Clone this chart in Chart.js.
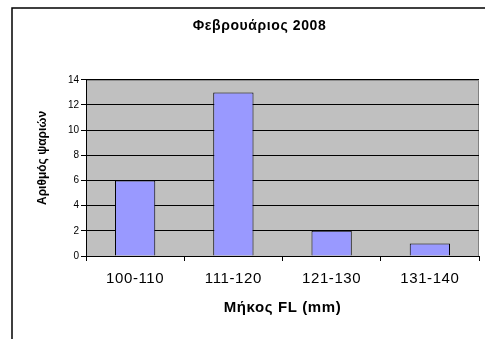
<!DOCTYPE html>
<html>
<head>
<meta charset="utf-8">
<script src="https://cdn.jsdelivr.net/npm/chart.js@4"></script>
<style>
  html, body { margin: 0; padding: 0; background: #fff; }
  #wrap { width: 485px; height: 339px; }
</style>
</head>
<body>
<div id="wrap"><canvas id="fishChart" width="485" height="339"></canvas></div>
<script>
// data
const lengthClasses = ['100-110', '111-120', '121-130', '131-140'];
const fishCounts = [6, 13, 2, 1];
const yTicks = [0, 2, 4, 6, 8, 10, 12, 14];

const chartTitle = 'Φεβρουάριος 2008';
const xTitle = 'Μήκος FL (mm)';
const yTitle = 'Αριθμός ψαριών';

const FONT = '"Liberation Sans", Arial, sans-serif';

// gray plot area, gray top/right edge and the outer frame lines
const backdrop = {
    id: 'backdrop',
    beforeDraw(chart) {
        const { ctx, chartArea: a } = chart;
        ctx.save();
        ctx.fillStyle = '#c0c0c0';
        ctx.fillRect(a.left, a.top, a.right - a.left, a.bottom - a.top);
        ctx.strokeStyle = '#808080';
        ctx.lineWidth = 1;
        ctx.beginPath();
        ctx.moveTo(a.left, a.top + 0.5);
        ctx.lineTo(a.right - 0.5, a.top + 0.5);
        ctx.lineTo(a.right - 0.5, a.bottom);
        ctx.stroke();
        ctx.strokeStyle = '#000';
        ctx.lineWidth = 1.5;
        ctx.beginPath();
        ctx.moveTo(12, chart.height);
        ctx.lineTo(12, 8);
        ctx.lineTo(chart.width, 8);
        ctx.stroke();
        ctx.restore();
        // the original text is slightly spread out
        ctx.letterSpacing = '0.6px';
    }
};

// y axis text is drawn without the extra spacing
function ySpacing(scale) {
    if (scale._spaced) return;
    scale._spaced = true;
    ['drawTitle', 'drawLabels'].forEach(name => {
        const orig = scale[name];
        scale[name] = function () {
            const c = this.ctx;
            const old = c.letterSpacing;
            c.letterSpacing = '0px';
            orig.apply(this, arguments);
            c.letterSpacing = old;
        };
    });
}

const ctx = document.getElementById('fishChart').getContext('2d');
new Chart(ctx, {
    type: 'bar',
    data: {
        labels: lengthClasses,
        datasets: [{
            data: fishCounts,
            backgroundColor: '#9999ff',
            borderColor: '#000',
            borderWidth: 1,
            barPercentage: 0.41,
            categoryPercentage: 1
        }]
    },
    options: {
        responsive: false,
        animation: false,
        layout: { padding: { left: 40, right: 6, top: 8, bottom: 20 } },
        plugins: {
            legend: { display: false },
            tooltip: { enabled: false },
            title: {
                display: true,
                text: chartTitle,
                color: '#000',
                font: { family: FONT, size: 14, weight: 'bold' },
                padding: { top: 10, bottom: 45 }
            }
        },
        scales: {
            x: {
                afterFit(scale) { scale.height = 63; },
                grid: {
                    offset: true,
                    drawOnChartArea: false,
                    drawTicks: true,
                    tickLength: 5,
                    color: '#000'
                },
                border: { color: '#000', width: 1 },
                ticks: {
                    color: '#000',
                    padding: 9,
                    font: { family: FONT, size: 15 }
                },
                title: {
                    display: true,
                    text: xTitle,
                    color: '#000',
                    font: { family: FONT, size: 15, weight: 'bold' },
                    padding: { top: 0, bottom: 2 }
                }
            },
            y: {
                min: 0,
                max: 14,
                afterFit(scale) { scale.width = 46; ySpacing(scale); },
                afterBuildTicks(scale) { scale.ticks = yTicks.map(v => ({ value: v })); },
                grid: {
                    color: '#000',
                    tickLength: 5
                },
                border: { color: '#000', width: 1 },
                ticks: {
                    color: '#000',
                    padding: 2,
                    font: { family: FONT, size: 10 }
                },
                title: {
                    display: true,
                    text: '      ' + yTitle,
                    color: '#000',
                    font: { family: FONT, size: 12, weight: 'bold' },
                    padding: { top: -5, bottom: 0 }
                }
            }
        }
    },
    plugins: [backdrop]
});
</script>
</body>
</html>
